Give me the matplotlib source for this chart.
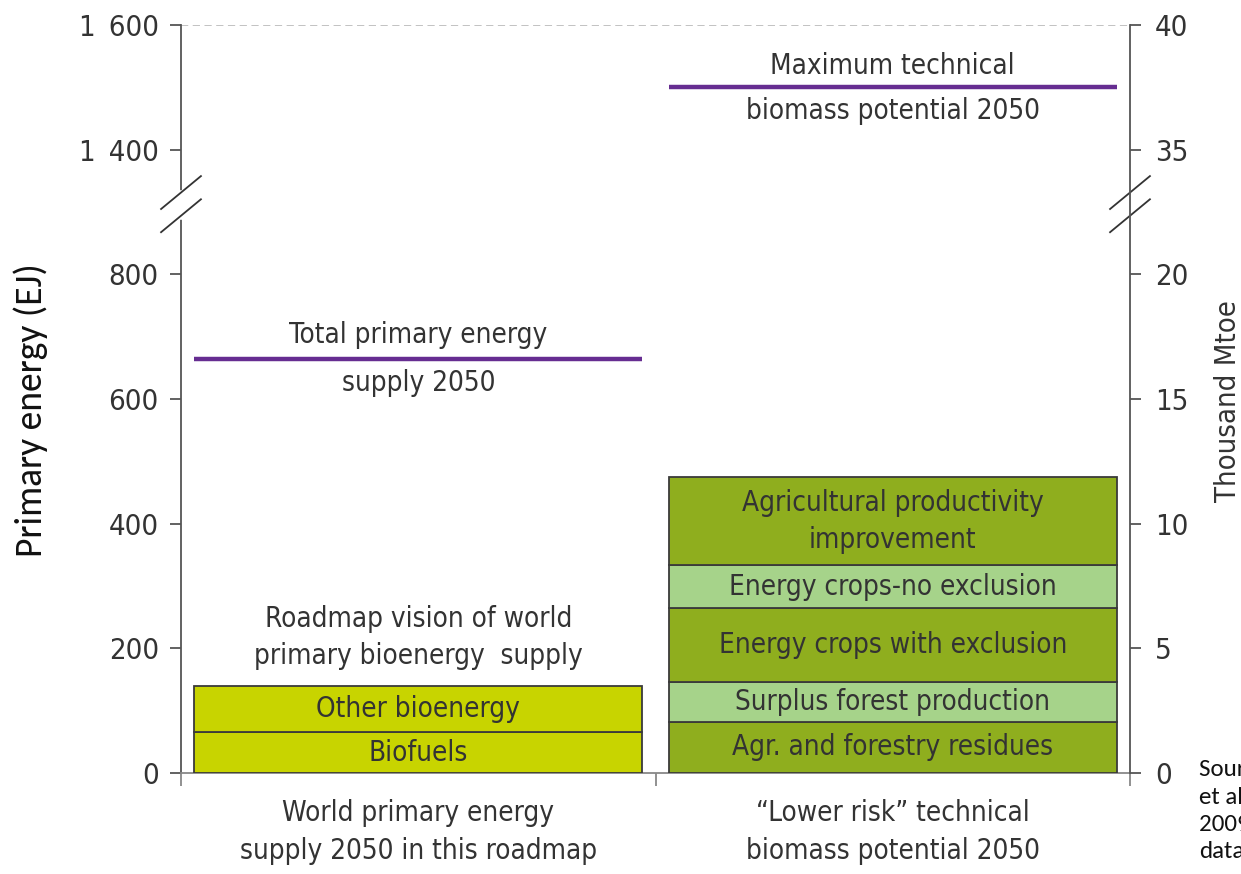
import numpy as np
import matplotlib
matplotlib.use("Agg")
import matplotlib.pyplot as plt

# ---- data (EJ) ----
left_segments = ["Biofuels", "Other bioenergy"]
left_values = [65, 75]                     # stacked: 0-65, 65-140
right_segments = ["Agr. and forestry residues", "Surplus forest production",
                  "Energy crops with exclusion", "Energy crops-no exclusion",
                  "Agricultural productivity\nimprovement"]
right_values = [82, 64, 118, 69, 142]     # stacked to ~475
total_primary_2050 = 664
max_technical_2050 = 1500

category_labels = ["World primary energy\nsupply 2050 in this roadmap",
                   "\u201cLower risk\u201d technical\nbiomass potential 2050"]
ej_ticks = [0, 200, 400, 600, 800, 1400, 1600]
ej_ticklabels = ["0", "200", "400", "600", "800", "1\u2002400", "1\u2002600"]
mtoe_ticks = [0, 5, 10, 15, 20, 35, 40]

# ---- styles ----
YELLOW = "#c8d400"
DARK_GREEN = "#8fae1e"
LIGHT_GREEN = "#a6d38a"
PURPLE = "#662d91"
EDGE = "#3a3a3a"
TXT = "#333333"
right_colors = [DARK_GREEN, LIGHT_GREEN, DARK_GREEN, LIGHT_GREEN, DARK_GREEN]

plt.rcParams["font.family"] = ["DejaVu Sans"]
plt.rcParams["font.stretch"] = "condensed"
CALIBRI_LIKE = ["Carlito", "Lato", "DejaVu Sans"]


# broken y scale: 0-800 linear, 800-1400 squeezed to 200 units, 1400-1600 linear
def ej_fwd(v):
    v = np.asarray(v, dtype=float)
    return np.where(v <= 800, v,
                    np.where(v >= 1400, v - 400, 800 + (v - 800) / 3.0))


def ej_inv(d):
    d = np.asarray(d, dtype=float)
    return np.where(d <= 800, d,
                    np.where(d >= 1000, d + 400, 800 + (d - 800) * 3.0))


def mt_fwd(t):
    t = np.asarray(t, dtype=float)
    return np.where(t <= 20, t * 40,
                    np.where(t >= 35, 40 * t - 400, 800 + (t - 20) * 200 / 15))


def mt_inv(d):
    d = np.asarray(d, dtype=float)
    return np.where(d <= 800, d / 40,
                    np.where(d >= 1000, (d + 400) / 40, 20 + (d - 800) * 15 / 200))


fig = plt.figure(figsize=(12.41, 8.74), dpi=100)
ax = fig.add_axes([181 / 1241, 101 / 874, 949 / 1241, 748 / 874])
ax.set_yscale("function", functions=(ej_fwd, ej_inv))
ax.set_ylim(0, 1600)
ax.set_xlim(0, 2)

bar_w = 0.945
x_left, x_right = 0.5, 1.5
FS = 20
TICK_FS = 21

# stacked bars
bottom = 0
for name, val in zip(left_segments, left_values):
    ax.bar(x_left, val, bottom=bottom, width=bar_w, color=YELLOW,
           edgecolor=EDGE, linewidth=1.3, zorder=3)
    ax.text(x_left, bottom + val / 2, name, ha="center", va="center",
            fontsize=FS, color=TXT, zorder=4)
    bottom += val

bottom = 0
for name, val, c in zip(right_segments, right_values, right_colors):
    ax.bar(x_right, val, bottom=bottom, width=bar_w, color=c,
           edgecolor=EDGE, linewidth=1.3, zorder=3)
    ax.text(x_right, bottom + val / 2, name, ha="center", va="center",
            fontsize=FS, color=TXT, zorder=4, linespacing=1.4)
    bottom += val

# reference levels
ax.hlines(total_primary_2050, x_left - bar_w / 2, x_left + bar_w / 2,
          color=PURPLE, linewidth=3.2, zorder=3)
ax.hlines(max_technical_2050, x_right - bar_w / 2, x_right + bar_w / 2,
          color=PURPLE, linewidth=3.2, zorder=3)
ax.annotate("Total primary energy", (x_left, total_primary_2050), xytext=(0, 7),
            textcoords="offset points", ha="center", va="bottom",
            fontsize=FS, color=TXT)
ax.annotate("supply 2050", (x_left, total_primary_2050), xytext=(0, -7),
            textcoords="offset points", ha="center", va="top",
            fontsize=FS, color=TXT)
ax.annotate("Maximum technical", (x_right, max_technical_2050), xytext=(0, 5),
            textcoords="offset points", ha="center", va="bottom",
            fontsize=FS, color=TXT)
ax.annotate("biomass potential 2050", (x_right, max_technical_2050), xytext=(0, -7),
            textcoords="offset points", ha="center", va="top",
            fontsize=FS, color=TXT)
ax.annotate("Roadmap vision of world\nprimary bioenergy  supply",
            (x_left, sum(left_values)), xytext=(0, 11), textcoords="offset points",
            ha="center", va="bottom", fontsize=FS, color=TXT, linespacing=1.45)

# top dashed reference line
ax.axhline(1600, color="#bdbdbd", linestyle=(0, (4, 2.5)), linewidth=1.3, zorder=1)

# spines / ticks
ax.spines["top"].set_visible(False)
ax.spines["right"].set_visible(False)
for s in ["left", "bottom"]:
    ax.spines[s].set_color("#555555")
    ax.spines[s].set_linewidth(1.3)
ax.spines["bottom"].set_color("#888888")

ax.set_yticks(ej_ticks)
ax.set_yticklabels(ej_ticklabels)
ax.tick_params(axis="y", direction="out", length=8, width=1.3, colors="#555555",
               labelcolor=TXT, labelsize=TICK_FS, pad=8)
ax.set_xticks([0, 1, 2])
ax.set_xticklabels(["", "", ""])
ax.tick_params(axis="x", direction="out", length=9, width=1.3, colors="#888888")

for i, lab in enumerate(category_labels):
    ax.text([x_left, x_right][i], -0.035, lab, transform=ax.get_xaxis_transform(),
            ha="center", va="top", fontsize=FS, color=TXT, linespacing=1.45)

fig.text(31 / 1241, 1 - 410 / 874, "Primary energy (EJ)", rotation=90,
         ha="center", va="center", family=CALIBRI_LIKE, fontstretch="normal",
         fontsize=27, color="#111111")

# right axis in thousand Mtoe
ax2 = ax.twinx()
ax2.set_yscale("function", functions=(mt_fwd, mt_inv))
ax2.set_ylim(0, 40)
ax2.set_yticks(mtoe_ticks)
ax2.set_yticklabels([str(t) for t in mtoe_ticks])
for s in ["top", "left", "bottom"]:
    ax2.spines[s].set_visible(False)
ax2.spines["right"].set_color("#555555")
ax2.spines["right"].set_linewidth(1.3)
ax2.tick_params(axis="y", direction="out", length=8, width=1.3, colors="#555555",
                labelcolor=TXT, labelsize=TICK_FS, pad=10)
fig.text(1228 / 1241, 1 - 401 / 874, "Thousand Mtoe", rotation=90,
         ha="center", va="center", fontsize=21, color=TXT)

# axis break marks
for xa in (0.0, 1.0):
    ax.plot([xa, xa], [0.743, 0.776], transform=ax.transAxes, color="white",
            linewidth=4, clip_on=False, zorder=5)
    for yc in (0.776, 0.745):
        ax.plot([xa - 0.021, xa + 0.021], [yc - 0.022, yc + 0.022],
                transform=ax.transAxes, color="#333333", linewidth=1.3,
                clip_on=False, zorder=6)

# source note
fig.text(1199 / 1241, 1 - 759 / 874, "Source: Dornburg\net al.,\n2009; IEA\ndata.",
         ha="left", va="top", fontsize=18, color="#111111",
         family=CALIBRI_LIKE, fontstretch="normal", linespacing=1.38)

fig.savefig("out.png", dpi=100)
